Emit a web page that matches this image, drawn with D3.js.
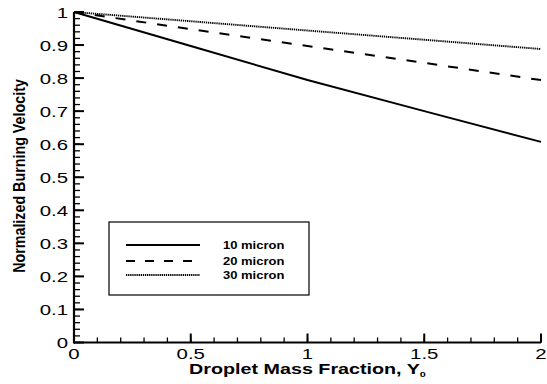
<!DOCTYPE html>
<html><head><meta charset="utf-8">
<script src="https://cdn.jsdelivr.net/npm/d3@7/dist/d3.min.js"></script>
<style>body{margin:0;background:#fff}svg{display:block}text{font-family:"Liberation Sans",Arial,sans-serif;fill:#000}</style>
</head><body>
<svg id="c" width="547" height="384"></svg>
<script>
const xValues = [0, 0.5, 1, 1.5, 2];
const micron10 = [1, 0.897, 0.794, 0.700, 0.607];
const micron20 = [1, 0.948, 0.897, 0.846, 0.794];
const micron30 = [1, 0.972, 0.944, 0.916, 0.888];
const seriesNames = ["10 micron", "20 micron", "30 micron"];
const xTicks = [0, 0.5, 1, 1.5, 2];
const xTickLabels = ["0", "0.5", "1", "1.5", "2"];
const yTicks = [0, 0.1, 0.2, 0.3, 0.4, 0.5, 0.6, 0.7, 0.8, 0.9, 1];
const yTickLabels = ["0", "0.1", "0.2", "0.3", "0.4", "0.5", "0.6", "0.7", "0.8", "0.9", "1"];

const svg = d3.select("#c");
const x = d3.scaleLinear().domain([0, 2]).range([74, 541]);
const y = d3.scaleLinear().domain([0, 1]).range([342.5, 12]);
const SX = 1.36;

// minor ticks
const xMinor = d3.range(0, 2.0001, 0.1);
const yMinor = d3.range(0, 1.0001, 0.02);
svg.append("g").selectAll("line").data(xMinor).join("line")
  .attr("x1", d => x(d)).attr("x2", d => x(d))
  .attr("y1", y(0)).attr("y2", y(0) - 5).attr("stroke", "#000").attr("stroke-width", 1.3);
svg.append("g").selectAll("line").data(yMinor).join("line")
  .attr("y1", d => y(d)).attr("y2", d => y(d))
  .attr("x1", x(0)).attr("x2", x(0) + 6).attr("stroke", "#000").attr("stroke-width", 1.3);
// major ticks
svg.append("g").selectAll("line").data(xTicks).join("line")
  .attr("x1", d => x(d)).attr("x2", d => x(d))
  .attr("y1", y(0)).attr("y2", y(0) - 9).attr("stroke", "#000").attr("stroke-width", 2);
svg.append("g").selectAll("line").data(yTicks).join("line")
  .attr("y1", d => y(d)).attr("y2", d => y(d))
  .attr("x1", x(0)).attr("x2", x(0) + 10).attr("stroke", "#000").attr("stroke-width", 2);
// axis lines
svg.append("line").attr("x1", x(0)).attr("x2", x(2)).attr("y1", y(0)).attr("y2", y(0))
  .attr("stroke", "#000").attr("stroke-width", 2.2);
svg.append("line").attr("x1", x(0)).attr("x2", x(0)).attr("y1", y(0)+1).attr("y2", y(1))
  .attr("stroke", "#000").attr("stroke-width", 2.2);

// tick labels
svg.append("g").selectAll("text").data(xTicks).join("text")
  .attr("transform", d => `translate(${x(d)},${y(0) + 16}) scale(${SX},1)`)
  .attr("text-anchor", "middle").attr("font-size", 15)
  .text((d, i) => xTickLabels[i]);
svg.append("g").selectAll("text").data(yTicks).join("text")
  .attr("transform", d => `translate(${x(0) - 6},${y(d) + 5.5}) scale(${SX},1)`)
  .attr("text-anchor", "end").attr("font-size", 15)
  .text((d, i) => yTickLabels[i]);

// titles
const xt = svg.append("text")
  .attr("transform", `translate(${(x(0) + x(2)) / 2},374) scale(1.36,1)`)
  .attr("text-anchor", "middle").attr("font-size", 14.5).attr("font-weight", "bold");
xt.append("tspan").text("Droplet Mass Fraction, Y");
xt.append("tspan").attr("font-size", 8).attr("dy", 3).text("0");
svg.append("text")
  .attr("transform", `translate(24.5,176) rotate(-90) scale(1,1.2)`)
  .attr("text-anchor", "middle").attr("font-size", 14.3).attr("font-weight", "bold")
  .text("Normalized Burning Velocity");

// lines
const styles = [
  {dash: null, w: 2},
  {dash: "10,11", w: 2},
  {dash: "1.3,0.8", w: 1.9}
];
const allSeries = [micron10, micron20, micron30];
const line = d3.line().x((d, i) => x(xValues[i])).y(d => y(d));
allSeries.forEach((s, k) => {
  svg.append("path").datum(s).attr("d", line).attr("fill", "none")
    .attr("stroke", "#000").attr("stroke-width", styles[k].w)
    .attr("stroke-dasharray", styles[k].dash);
});

// legend
svg.append("rect").attr("x", 109).attr("y", 222).attr("width", 200).attr("height", 73)
  .attr("fill", "#fff").attr("stroke", "#000").attr("stroke-width", 1.2);
const legY = [245, 261, 275];
seriesNames.forEach((n, k) => {
  svg.append("line").attr("x1", 126).attr("x2", 200).attr("y1", legY[k]).attr("y2", legY[k])
    .attr("stroke", "#000").attr("stroke-width", styles[k].w)
    .attr("stroke-dasharray", k === 1 ? "9,10" : styles[k].dash);
  svg.append("text").attr("transform", `translate(223,${legY[k] + 3.5}) scale(1.3,1)`)
    .attr("font-size", 10).attr("font-weight", "bold").text(n);
});
</script>
</body></html>
